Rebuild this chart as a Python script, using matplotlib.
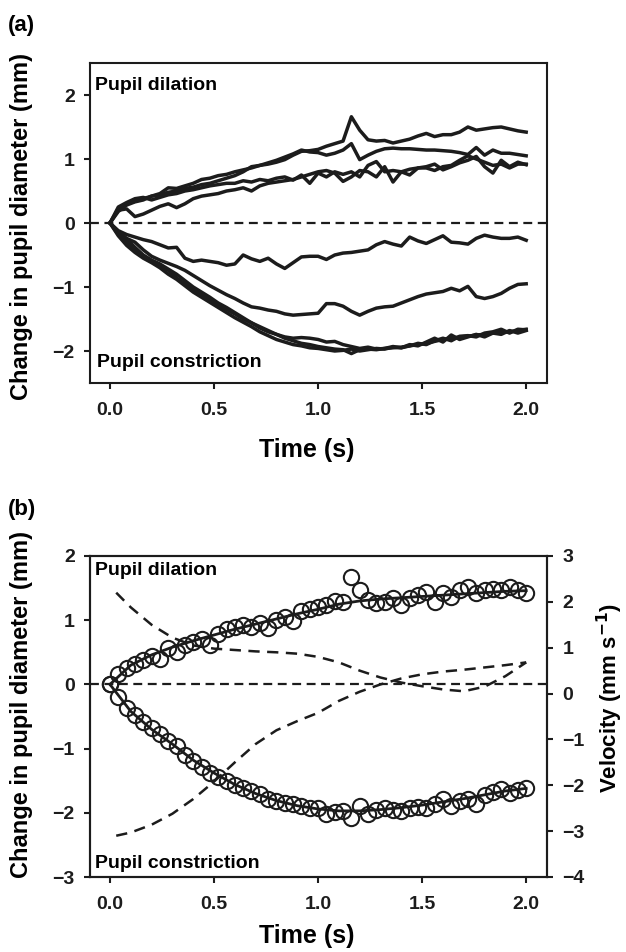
import numpy as np
import matplotlib.pyplot as plt

plt.rcParams['font.family'] = ['Liberation Sans', 'DejaVu Sans']
plt.rcParams['font.weight'] = 'bold'

W, H = 626, 952
INK = '#1c1c1c'

# sample times (s), 25 Hz
time_s = [0.00, 0.04, 0.08, 0.12, 0.16, 0.20, 0.24, 0.28, 0.32, 0.36,
          0.40, 0.44, 0.48, 0.52, 0.56, 0.60, 0.64, 0.68, 0.72, 0.76,
          0.80, 0.84, 0.88, 0.92, 0.96, 1.00, 1.04, 1.08, 1.12, 1.16,
          1.20, 1.24, 1.28, 1.32, 1.36, 1.40, 1.44, 1.48, 1.52, 1.56,
          1.60, 1.64, 1.68, 1.72, 1.76, 1.80, 1.84, 1.88, 1.92, 1.96, 2.00]

# (a) individual traces, change in pupil diameter (mm)
dil_1 = [0.00, 0.22, 0.30, 0.34, 0.38, 0.42, 0.46, 0.55, 0.54, 0.58,
         0.62, 0.68, 0.70, 0.74, 0.76, 0.80, 0.83, 0.86, 0.90, 0.92,
         0.95, 0.99, 1.06, 1.12, 1.13, 1.15, 1.20, 1.24, 1.28, 1.66,
         1.45, 1.30, 1.28, 1.29, 1.25, 1.28, 1.31, 1.36, 1.40, 1.35,
         1.38, 1.38, 1.42, 1.50, 1.45, 1.47, 1.49, 1.50, 1.47, 1.44, 1.42]
dil_2 = [0.00, 0.18, 0.28, 0.33, 0.36, 0.42, 0.44, 0.48, 0.50, 0.54,
         0.56, 0.60, 0.62, 0.66, 0.70, 0.74, 0.80, 0.88, 0.90, 0.94,
         0.98, 1.03, 1.08, 1.14, 1.11, 1.10, 1.06, 1.09, 1.14, 1.24,
         0.99, 1.06, 1.12, 1.16, 1.17, 1.16, 1.16, 1.15, 1.14, 1.14,
         1.13, 1.12, 1.10, 1.07, 1.18, 1.06, 1.14, 1.09, 1.09, 1.07, 1.05]
dil_3 = [0.00, 0.20, 0.22, 0.10, 0.14, 0.20, 0.26, 0.30, 0.24, 0.30,
         0.38, 0.42, 0.44, 0.46, 0.50, 0.52, 0.55, 0.50, 0.58, 0.62,
         0.64, 0.66, 0.68, 0.72, 0.76, 0.80, 0.82, 0.78, 0.65, 0.72,
         0.82, 0.80, 0.72, 0.88, 0.64, 0.80, 0.75, 0.86, 0.88, 0.92,
         0.83, 0.88, 0.94, 0.98, 1.04, 0.88, 0.78, 0.98, 0.88, 0.95, 0.91]
dil_4 = [0.00, 0.25, 0.32, 0.38, 0.40, 0.36, 0.40, 0.44, 0.46, 0.50,
         0.52, 0.55, 0.58, 0.60, 0.62, 0.62, 0.66, 0.64, 0.68, 0.66,
         0.70, 0.72, 0.67, 0.75, 0.62, 0.78, 0.72, 0.80, 0.76, 0.80,
         0.72, 0.90, 0.96, 0.80, 0.82, 0.80, 0.84, 0.86, 0.86, 0.82,
         0.88, 0.90, 0.98, 1.05, 1.00, 0.95, 0.90, 0.92, 0.86, 0.92, 0.92]
con_1 = [0.00, -0.12, -0.18, -0.22, -0.26, -0.29, -0.34, -0.39, -0.38, -0.55,
         -0.60, -0.58, -0.60, -0.62, -0.66, -0.64, -0.50, -0.56, -0.60, -0.55,
         -0.64, -0.71, -0.62, -0.53, -0.52, -0.52, -0.57, -0.50, -0.47, -0.46,
         -0.44, -0.42, -0.34, -0.29, -0.33, -0.36, -0.22, -0.28, -0.32, -0.26,
         -0.20, -0.30, -0.31, -0.33, -0.24, -0.19, -0.22, -0.24, -0.24, -0.22, -0.27]
con_2 = [0.00, -0.14, -0.24, -0.30, -0.42, -0.52, -0.58, -0.63, -0.68, -0.74,
         -0.82, -0.90, -0.98, -1.05, -1.12, -1.18, -1.25, -1.31, -1.33, -1.36,
         -1.38, -1.42, -1.44, -1.43, -1.42, -1.41, -1.26, -1.26, -1.30, -1.38,
         -1.44, -1.38, -1.33, -1.31, -1.30, -1.25, -1.20, -1.15, -1.11, -1.09,
         -1.07, -1.02, -1.06, -0.99, -1.15, -1.18, -1.15, -1.10, -1.02, -0.96, -0.95]
con_3 = [0.00, -0.18, -0.30, -0.42, -0.52, -0.60, -0.67, -0.74, -0.86, -0.95,
         -1.04, -1.12, -1.20, -1.28, -1.35, -1.42, -1.50, -1.56, -1.62, -1.68,
         -1.74, -1.80, -1.84, -1.88, -1.90, -1.93, -1.95, -1.97, -1.98, -2.04,
         -1.98, -1.97, -1.98, -1.96, -1.95, -1.94, -1.92, -1.90, -1.88, -1.85,
         -1.82, -1.80, -1.78, -1.77, -1.75, -1.74, -1.72, -1.71, -1.70, -1.68, -1.66]
con_4 = [0.00, -0.15, -0.25, -0.38, -0.50, -0.58, -0.64, -0.72, -0.80, -0.90,
         -1.00, -1.08, -1.16, -1.25, -1.32, -1.40, -1.48, -1.56, -1.64, -1.70,
         -1.74, -1.78, -1.80, -1.79, -1.80, -1.82, -1.86, -1.85, -1.90, -1.93,
         -1.96, -1.94, -1.97, -1.96, -1.93, -1.95, -1.90, -1.92, -1.86, -1.80,
         -1.86, -1.75, -1.82, -1.78, -1.74, -1.78, -1.72, -1.74, -1.68, -1.72, -1.68]
con_5 = [0.00, -0.20, -0.35, -0.46, -0.55, -0.62, -0.70, -0.80, -0.88, -0.98,
         -1.08, -1.16, -1.24, -1.32, -1.40, -1.48, -1.55, -1.62, -1.70, -1.76,
         -1.82, -1.86, -1.90, -1.92, -1.95, -1.96, -1.98, -2.00, -1.99, -1.97,
         -2.00, -1.98, -1.96, -1.97, -1.94, -1.95, -1.92, -1.88, -1.90, -1.84,
         -1.80, -1.84, -1.77, -1.76, -1.78, -1.72, -1.70, -1.66, -1.72, -1.66, -1.67]
traces_a = [dil_1, dil_2, dil_3, dil_4, con_1, con_2, con_3, con_4, con_5]

# (b) example responses (circles), fitted curves and velocities
dil_obs = [0.00, 0.16, 0.26, 0.32, 0.38, 0.44, 0.40, 0.56, 0.50, 0.62,
           0.66, 0.70, 0.62, 0.78, 0.86, 0.90, 0.92, 0.90, 0.95, 0.88,
           1.00, 1.05, 0.98, 1.15, 1.18, 1.20, 1.24, 1.30, 1.29, 1.68,
           1.47, 1.31, 1.27, 1.29, 1.34, 1.23, 1.34, 1.39, 1.44, 1.29,
           1.42, 1.36, 1.47, 1.52, 1.42, 1.47, 1.49, 1.47, 1.52, 1.47, 1.42]
con_obs = [0.00, -0.20, -0.36, -0.47, -0.59, -0.68, -0.78, -0.88, -0.96, -1.10,
           -1.20, -1.28, -1.38, -1.45, -1.51, -1.56, -1.62, -1.66, -1.71, -1.78,
           -1.82, -1.85, -1.87, -1.90, -1.93, -1.93, -2.02, -1.99, -1.97, -2.08,
           -1.90, -2.02, -1.95, -1.93, -1.95, -1.97, -1.93, -1.91, -1.93, -1.87,
           -1.78, -1.90, -1.82, -1.78, -1.87, -1.72, -1.68, -1.63, -1.69, -1.65, -1.62]

fit_t = [0.0, 0.1, 0.2, 0.3, 0.4, 0.5, 0.6, 0.7, 0.8, 0.9, 1.0,
         1.1, 1.2, 1.3, 1.4, 1.5, 1.6, 1.7, 1.8, 1.9, 2.0]
dil_fit = [0.00, 0.30, 0.46, 0.58, 0.68, 0.77, 0.86, 0.94, 1.02, 1.10, 1.17,
           1.25, 1.30, 1.33, 1.35, 1.37, 1.39, 1.41, 1.43, 1.45, 1.46]
con_fit = [0.00, -0.42, -0.70, -0.93, -1.18, -1.38, -1.56, -1.70, -1.81, -1.89, -1.94,
           -1.97, -1.97, -1.95, -1.92, -1.88, -1.83, -1.78, -1.72, -1.66, -1.62]

vel_t = [0.03, 0.1, 0.2, 0.3, 0.4, 0.5, 0.6, 0.7, 0.8, 0.9, 1.0,
         1.1, 1.2, 1.3, 1.4, 1.5, 1.6, 1.7, 1.8, 1.9, 2.0]
dil_vel = [2.20, 1.88, 1.50, 1.22, 1.05, 0.98, 0.95, 0.92, 0.90, 0.87, 0.80,
           0.68, 0.50, 0.35, 0.24, 0.16, 0.09, 0.05, 0.15, 0.38, 0.68]
con_vel = [-3.10, -3.03, -2.86, -2.62, -2.30, -1.92, -1.50, -1.10, -0.80, -0.60, -0.42,
           -0.16, 0.04, 0.20, 0.33, 0.42, 0.48, 0.52, 0.57, 0.62, 0.68]

x_ticks = [0.0, 0.5, 1.0, 1.5, 2.0]


def fx(px):
    return px / W


def fy(py):
    return 1 - py / H


def style_axes(ax):
    for sp in ax.spines.values():
        sp.set_linewidth(1.5)
        sp.set_color(INK)
    ax.tick_params(direction='out', length=4, width=1.5, colors=INK, labelsize=14)
    ax.tick_params(axis='x', pad=10)
    ax.tick_params(axis='y', pad=7)
    ax.set_xlim(-0.096, 2.1)
    ax.set_xticks(x_ticks)
    ax.set_xticklabels([f'{v:.1f}' for v in x_ticks])


fig = plt.figure(figsize=(W / 100, H / 100), dpi=100)

# ---- panel (a)
ax_a = fig.add_axes([fx(90), fy(383), fx(457), 320 / H])
style_axes(ax_a)
ax_a.set_ylim(-2.5, 2.5)
ax_a.set_yticks([-2, -1, 0, 1, 2])
ax_a.axhline(0, color=INK, lw=1.6, dashes=(4, 2.5), zorder=1)
for tr in traces_a:
    ax_a.plot(time_s, tr, color=INK, lw=2.5, zorder=2)
ax_a.text(0.012, 0.93, 'Pupil dilation', transform=ax_a.transAxes,
          fontsize=14, va='center', ha='left')
ax_a.text(0.015, 0.065, 'Pupil constriction', transform=ax_a.transAxes,
          fontsize=14, va='center', ha='left')

# ---- panel (b)
ax_b = fig.add_axes([fx(90), fy(877), fx(457), 321 / H])
style_axes(ax_b)
ax_b.set_ylim(-3, 2)
ax_b.set_yticks([-3, -2, -1, 0, 1, 2])
ax_b.axhline(0, color=INK, lw=1.6, dashes=(4, 2.5), zorder=1)
for obs in (dil_obs, con_obs):
    ax_b.plot(time_s, obs, ls='none', marker='o', ms=11, mfc='none',
              mec=INK, mew=1.5, zorder=2)
for fit in (dil_fit, con_fit):
    ax_b.plot(fit_t, fit, color=INK, lw=2.0, zorder=3)
ax_b.text(0.012, 0.955, 'Pupil dilation', transform=ax_b.transAxes,
          fontsize=14, va='center', ha='left')
ax_b.text(0.012, 0.043, 'Pupil constriction', transform=ax_b.transAxes,
          fontsize=14, va='center', ha='left')

ax_r = ax_b.twinx()
ax_r.set_ylim(-4, 3)
ax_r.set_yticks([-4, -3, -2, -1, 0, 1, 2, 3])
for sp in ax_r.spines.values():
    sp.set_linewidth(1.5)
    sp.set_color(INK)
ax_r.tick_params(direction='out', length=4, width=1.5, colors=INK,
                 labelsize=14, pad=7)
for vel in (dil_vel, con_vel):
    ax_r.plot(vel_t, vel, color=INK, lw=1.8, dashes=(4.5, 3))

# ---- labels
fig.text(fx(8), fy(25), '(a)', fontsize=16, ha='left', va='center')
fig.text(fx(8), fy(510), '(b)', fontsize=16, ha='left', va='center')
fig.text(fx(22), fy(226), 'Change in pupil diameter (mm)', rotation=90,
         fontsize=17, ha='center', va='center')
fig.text(fx(22), fy(705), 'Change in pupil diameter (mm)', rotation=90,
         fontsize=17, ha='center', va='center')
fig.text(fx(610), fy(698), 'Velocity (mm s$^{\\mathbf{-1}}$)', rotation=90,
         fontsize=16, ha='center', va='center')
fig.text(fx(307), fy(450), 'Time (s)', fontsize=18, ha='center', va='center')
fig.text(fx(307), fy(936), 'Time (s)', fontsize=18, ha='center', va='center')

fig.savefig('out.png', dpi=100)
